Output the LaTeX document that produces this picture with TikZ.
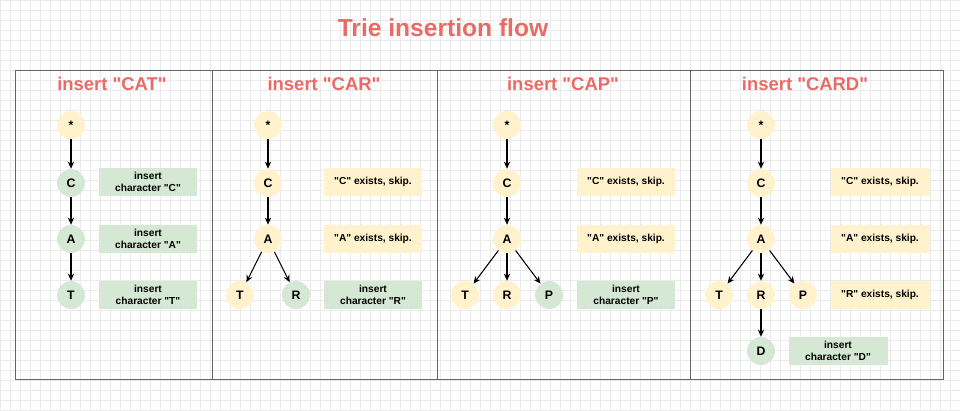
\documentclass[tikz,border=0pt]{standalone}
\usepackage{fontspec}
\setmainfont{Liberation Sans}[Ligatures=TeXOff]
\usetikzlibrary{arrows.meta}
\definecolor{titlered}{HTML}{EA6B66}
\definecolor{yelfill}{HTML}{FFF2CC}
\definecolor{grnfill}{HTML}{D5E8D4}
\definecolor{gridline}{HTML}{EBEBEB}
\definecolor{framegray}{HTML}{666666}
\begin{document}
\begin{tikzpicture}[x=0.02cm,y=-0.02cm]
	\tikzstyle{letter}=[shape=circle, minimum size=0.56cm, inner sep=0pt, font=\fontsize{7}{8}\selectfont\bfseries]
	\tikzstyle{old}=[letter, fill=yelfill]
	\tikzstyle{new}=[letter, fill=grnfill]
	\tikzstyle{note}=[shape=rectangle, minimum width=1.98cm, minimum height=0.56cm, inner sep=1pt, align=center, font=\fontsize{5.8}{6.6}\selectfont\bfseries]
	\tikzstyle{skipbox}=[note, fill=yelfill]
	\tikzstyle{insbox}=[note, fill=grnfill]
	\tikzstyle{heading}=[text=titlered, font=\fontsize{10.5}{12}\selectfont\bfseries]
	\tikzstyle{edge}=[line width=0.6pt, -{Stealth[length=4pt, width=3.6pt]}]
	\useasboundingbox (0,0) rectangle (960,410);
	% grid
	\foreach \x in {0,10,...,960} \draw[gridline, line width=0.3pt] (\x,0) -- (\x,410);
	\foreach \y in {0,10,...,410} \draw[gridline, line width=0.3pt] (0,\y) -- (960,\y);
	% frame
	\draw[framegray, line width=0.5pt] (15,70) rectangle (943,379);
	\draw[framegray, line width=0.5pt] (212,70) -- (212,379)
	      (437,70) -- (437,379)
	      (690,70) -- (690,379);
	\node[text=titlered, font=\fontsize{14}{16}\selectfont\bfseries] (title) at (443,28) {Trie insertion flow};
	% insert CAT
	\path (112,84) node[heading] (h1) {insert "CAT"}
	      (71,125) node[old] (r1) {*}
	      (71,183) node[new] (c1) {C}
	      (71,239) node[new] (a1) {A}
	      (71,295) node[new] (t1) {T}
	      (148,182) node[insbox] (n1c) {insert\\character "C"}
	      (148,239) node[insbox] (n1a) {insert\\character "A"}
	      (148,295) node[insbox] (n1t) {insert\\character "T"};
	\draw[edge] (r1) -- (c1);
	\draw[edge] (c1) -- (a1);
	\draw[edge] (a1) -- (t1);
	% insert CAR
	\path (324,84) node[heading] (h2) {insert "CAR"}
	      (268,125) node[old] (r2) {*}
	      (268,183) node[old] (c2) {C}
	      (268,239) node[old] (a2) {A}
	      (240,295) node[old] (t2) {T}
	      (296,295) node[new] (s2) {R}
	      (373,182) node[skipbox] (n2c) {"C" exists, skip.}
	      (373,239) node[skipbox] (n2a) {"A" exists, skip.}
	      (373,295) node[insbox] (n2r) {insert\\character "R"};
	\draw[edge] (r2) -- (c2);
	\draw[edge] (c2) -- (a2);
	\draw[edge] (a2) -- (t2);
	\draw[edge] (a2) -- (s2);
	% insert CAP
	\path (563,84) node[heading] (h3) {insert "CAP"}
	      (507,125) node[old] (r3) {*}
	      (507,183) node[old] (c3) {C}
	      (507,239) node[old] (a3) {A}
	      (465,295) node[old] (t3) {T}
	      (507,295) node[old] (s3) {R}
	      (549,295) node[new] (p3) {P}
	      (626,182) node[skipbox] (n3c) {"C" exists, skip.}
	      (626,239) node[skipbox] (n3a) {"A" exists, skip.}
	      (626,295) node[insbox] (n3p) {insert\\character "P"};
	\draw[edge] (r3) -- (c3);
	\draw[edge] (c3) -- (a3);
	\draw[edge] (a3) -- (t3);
	\draw[edge] (a3) -- (s3);
	\draw[edge] (a3) -- (p3);
	% insert CARD
	\path (805,84) node[heading] (h4) {insert "CARD"}
	      (761,125) node[old] (r4) {*}
	      (761,183) node[old] (c4) {C}
	      (761,239) node[old] (a4) {A}
	      (719,295) node[old] (t4) {T}
	      (761,295) node[old] (s4) {R}
	      (803,295) node[old] (p4) {P}
	      (761,351) node[new] (d4) {D}
	      (880,182) node[skipbox] (n4c) {"C" exists, skip.}
	      (880,239) node[skipbox] (n4a) {"A" exists, skip.}
	      (880,295) node[skipbox] (n4r) {"R" exists, skip.}
	      (838,351) node[insbox] (n4d) {insert\\character "D"};
	\draw[edge] (r4) -- (c4);
	\draw[edge] (c4) -- (a4);
	\draw[edge] (a4) -- (t4);
	\draw[edge] (a4) -- (s4);
	\draw[edge] (a4) -- (p4);
	\draw[edge] (s4) -- (d4);
\end{tikzpicture}
\end{document}
